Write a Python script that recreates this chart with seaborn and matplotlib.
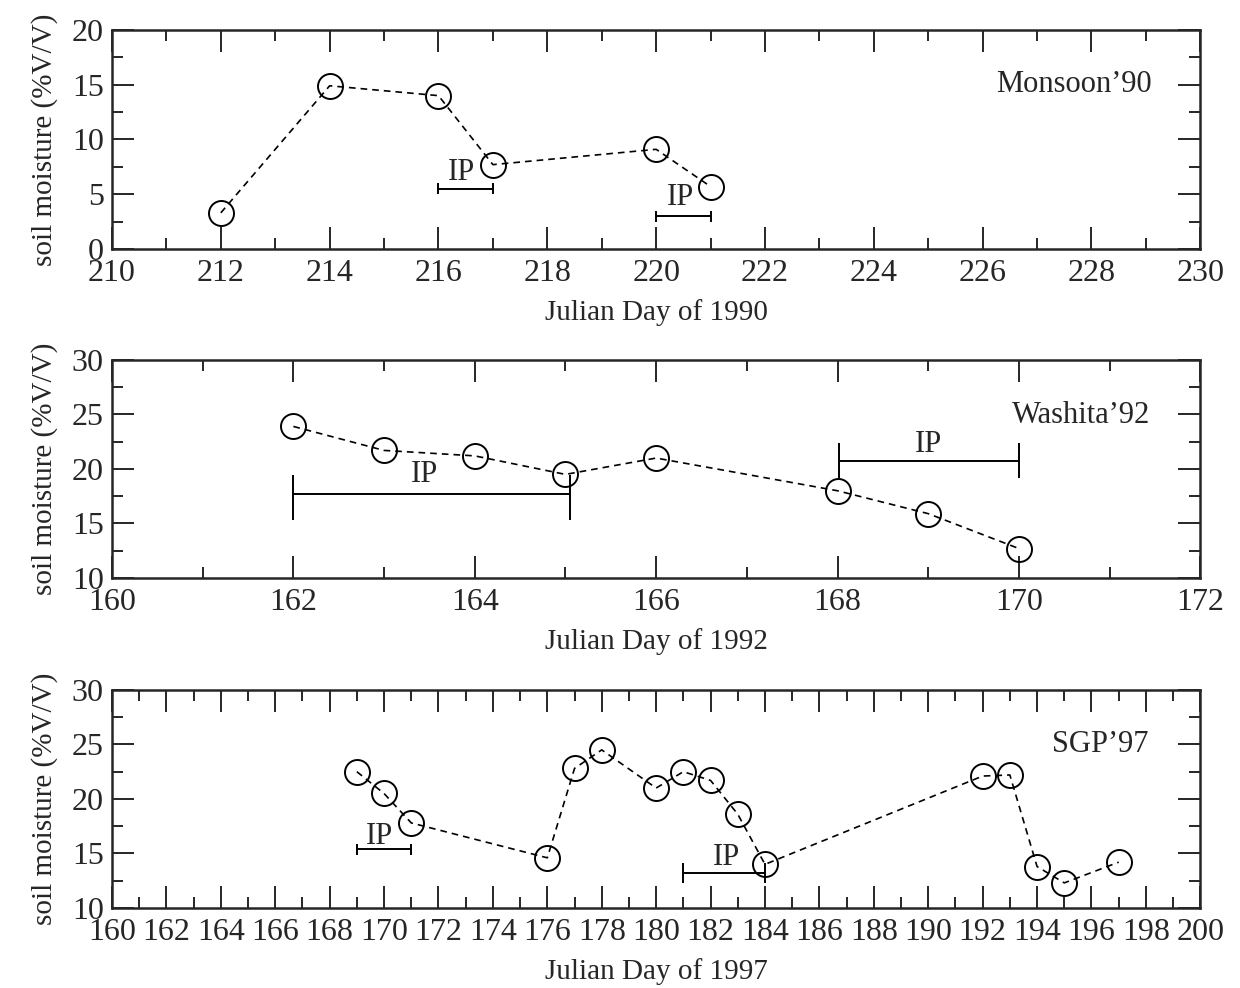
import matplotlib
matplotlib.use("Agg")
import matplotlib.pyplot as plt
import numpy as np
import pandas as pd
import seaborn as sns
from matplotlib.ticker import MultipleLocator

# Monsoon'90
days_90 = [212, 214, 216, 217, 220, 221]
sm_90 = [3.3, 14.9, 14.0, 7.7, 9.1, 5.7]
# Washita'92
days_92 = [162, 163, 164, 165, 166, 168, 169, 170]
sm_92 = [23.9, 21.7, 21.2, 19.5, 21.0, 18.0, 15.9, 12.7]
# SGP'97
days_97 = [169, 170, 171, 176, 177, 178, 180, 181, 182, 183, 184, 192, 193, 194, 195, 197]
sm_97 = [22.5, 20.5, 17.8, 14.6, 22.8, 24.5, 21.0, 22.5, 21.7, 18.6, 14.0, 22.1, 22.2, 13.8, 12.3, 14.2]

# IP intervals: (start, end, y, cap_lo, cap_hi)
ip_90 = [(216, 217, 5.5, 5.0, 6.0), (220, 221, 3.0, 2.5, 3.5)]
ip_92 = [(162, 165.05, 17.7, 15.3, 19.4), (168.02, 170, 20.7, 19.2, 22.4)]
ip_97 = [(169, 171, 15.4, 14.9, 15.9), (181, 184, 13.2, 12.3, 14.1)]
# IP label positions (x, y)
ip_lbl_90 = [(216.43, 7.0), (220.44, 4.7)]
ip_lbl_92 = [(163.45, 19.45), (169.0, 22.2)]
ip_lbl_97 = [(169.85, 16.6), (182.6, 14.6)]

sns.set_style("ticks")
plt.rcParams['font.family'] = ['Liberation Serif', 'DejaVu Serif']

fig = plt.figure(figsize=(12.4, 9.88), dpi=100)

panels = [
    dict(x=days_90, y=sm_90, ip=ip_90, lbl=ip_lbl_90, xlim=(210, 230), ylim=(0, 20),
         name="Monsoon\u201990", nxy=(229.1, 15.0), xlab="Julian Day of 1990",
         rect=[0.0903, 0.748, 0.8777, 0.2217]),
    dict(x=days_92, y=sm_92, ip=ip_92, lbl=ip_lbl_92, xlim=(160, 172), ylim=(10, 30),
         name="Washita\u201992", nxy=(171.45, 24.9), xlab="Julian Day of 1992",
         rect=[0.0903, 0.415, 0.8777, 0.2207]),
    dict(x=days_97, y=sm_97, ip=ip_97, lbl=ip_lbl_97, xlim=(160, 200), ylim=(10, 30),
         name="SGP\u201997", nxy=(198.1, 24.95), xlab="Julian Day of 1997",
         rect=[0.0903, 0.081, 0.8777, 0.2207]),
]

for p in panels:
    ax = fig.add_axes(p["rect"])
    df = pd.DataFrame({"day": p["x"], "sm": p["y"]})
    sns.lineplot(data=df, x="day", y="sm", ax=ax, color="k", linestyle=(0, (4, 3)),
                 linewidth=1.2, marker="o", markersize=18, markerfacecolor="none",
                 markeredgecolor="k", markeredgewidth=1.4)
    for (x0, x1, yy, clo, chi), (lx, ly) in zip(p["ip"], p["lbl"]):
        ax.hlines(yy, x0, x1, color="k", lw=1.4)
        ax.vlines([x0, x1], clo, chi, color="k", lw=1.4)
        ax.text(lx, ly, "IP", ha="center", va="center", fontsize=22)
    ax.text(p["nxy"][0], p["nxy"][1], p["name"], ha="right", va="center", fontsize=22)
    ax.set_xlim(*p["xlim"])
    ax.set_ylim(*p["ylim"])
    ax.xaxis.set_major_locator(MultipleLocator(2))
    ax.xaxis.set_minor_locator(MultipleLocator(1))
    ax.yaxis.set_major_locator(MultipleLocator(5))
    ax.yaxis.set_minor_locator(MultipleLocator(2.5))
    ax.tick_params(which="both", direction="in", top=True, right=True, width=1.4,
                   labelsize=23)
    ax.tick_params(axis="x", pad=7)
    ax.tick_params(axis="y", pad=6)
    ax.tick_params(which="major", length=16)
    ax.tick_params(which="minor", length=8)
    for s in ax.spines.values():
        s.set_linewidth(1.8)
    ax.set_xlabel(p["xlab"], fontsize=21, labelpad=8)
    ax.set_ylabel("soil moisture (%V/V)", fontsize=21, labelpad=10)

fig.savefig("out.png", dpi=100)
